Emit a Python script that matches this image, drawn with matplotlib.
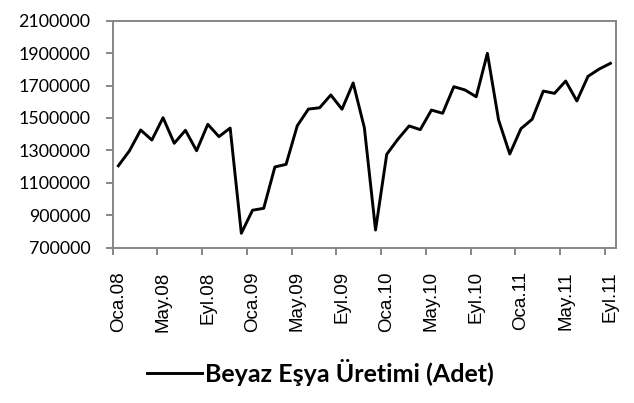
import matplotlib.pyplot as plt

# Aylik beyaz esya uretimi, Ocak 2008 - Eylul 2011
aylar = ['Oca', 'Şub', 'Mar', 'Nis', 'May', 'Haz', 'Tem', 'Ağu', 'Eyl', 'Eki', 'Kas', 'Ara']
yillar = ['08', '09', '10', '11']
donemler = [a + '.' + y for y in yillar for a in aylar][:45]

uretim = [1205000, 1298000, 1426000, 1364000, 1502000, 1344000, 1424000, 1298000,
          1461000, 1385000, 1438000, 789000, 931000, 943000, 1198000, 1214000,
          1452000, 1555000, 1563000, 1642000, 1554000, 1716000, 1440000, 809000,
          1276000, 1369000, 1451000, 1428000, 1549000, 1529000, 1693000, 1673000,
          1631000, 1899000, 1488000, 1278000, 1434000, 1492000, 1666000, 1652000,
          1728000, 1605000, 1757000, 1802000, 1837000]

seri_adi = 'Beyaz Eşya Üretimi (Adet)'

gri = '#868686'

fig = plt.figure(figsize=(6.34, 4.03), dpi=100)
ax = fig.add_axes([0.1778, 0.3854, 0.7938, 0.5632])

x = list(range(len(uretim)))
ax.plot(x, uretim, color='black', lw=2.1, label=seri_adi)

ax.set_xlim(-0.5, len(uretim) - 0.5)
ax.set_ylim(700000, 2100000)
ax.set_yticks(range(700000, 2100001, 200000))
ax.set_yticklabels([str(v) for v in range(700000, 2100001, 200000)],
                   fontfamily='Lato', fontsize=12.8)

# etiketler kategori ortasinda, cizgiler kategori arasinda
ax.set_xticks(x[::4])
ax.set_xticklabels(donemler[::4], rotation=90, fontfamily='Liberation Sans',
                   fontsize=13.5, va='top', ha='center')
ax.set_xticks([i - 0.5 for i in x[::4]], minor=True)
ax.tick_params(axis='x', which='major', length=0, pad=17)
ax.tick_params(axis='x', which='minor', length=5, width=1.4, color=gri)
ax.tick_params(axis='y', length=5, width=1.4, color=gri, pad=11)

for s in ax.spines.values():
    s.set_color(gri)
    s.set_linewidth(1.4)

fig.legend(loc='center', bbox_to_anchor=(0.505, 0.076), frameon=False,
           handlelength=2.2, handletextpad=0.12,
           prop={'family': 'Lato', 'weight': 'bold', 'size': 18})

plt.savefig('out.png', dpi=100)
